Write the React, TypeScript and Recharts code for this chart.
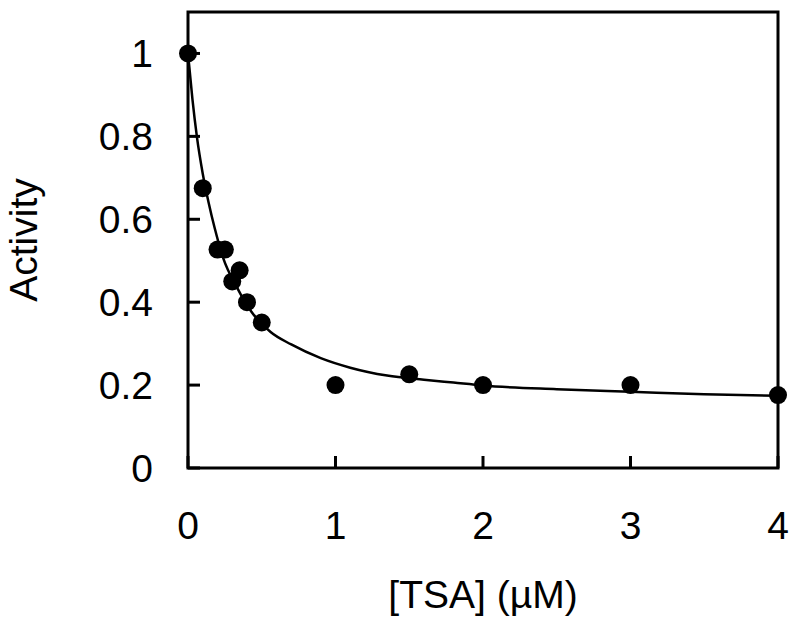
import React from "react";
import { ComposedChart, Line, Scatter, XAxis, YAxis, Label, ReferenceArea } from "recharts";

const pointX = [0, 0.1, 0.2, 0.25, 0.3, 0.35, 0.4, 0.5, 1, 1.5, 2, 3, 4];
const pointY = [1.0, 0.675, 0.527, 0.527, 0.45, 0.477, 0.4, 0.351, 0.2, 0.226, 0.2, 0.2, 0.176];

const curveX = [0, 0.03, 0.06, 0.1, 0.14, 0.18, 0.24, 0.33, 0.43, 0.56, 0.7, 0.9, 1.1, 1.35, 1.6, 1.8, 2.0, 2.5, 3.0, 3.5, 4.0];
const curveY = [1.0, 0.89, 0.8, 0.71, 0.64, 0.58, 0.505, 0.437, 0.377, 0.328, 0.298, 0.265, 0.242, 0.223, 0.213, 0.206, 0.199, 0.19, 0.184, 0.178, 0.174];

const xTicks = [0, 1, 2, 3, 4];
const yTicks = [0, 0.2, 0.4, 0.6, 0.8, 1];
const xDomain = [0, 4];
const yDomain = [0, 1.1];

const points = pointX.map((x, i) => ({ x, y: pointY[i] }));
const curve = curveX.map((x, i) => ({ x, y: curveY[i] }));

const FONT = "'Liberation Sans', Arial, sans-serif";
const FS = 39;
const TICK_LEN = 12;
const X_MARGIN = 43;
const Y_MARGIN = 35;

const XTick = (p: any) => {
  const { x, y, payload } = p;
  const axisY = y - X_MARGIN;
  return (
    <g>
      <line x1={x} x2={x} y1={axisY} y2={axisY - TICK_LEN} stroke="#000" strokeWidth={3} />
      <text x={x} y={y} dy="0.71em" textAnchor="middle" fontSize={FS} fontFamily={FONT} fill="#000">
        {payload.value}
      </text>
    </g>
  );
};

const YTick = (p: any) => {
  const { x, y, payload } = p;
  const axisX = x + Y_MARGIN;
  return (
    <g>
      <line x1={axisX} x2={axisX + TICK_LEN} y1={y} y2={y} stroke="#000" strokeWidth={3} />
      <text x={x} y={y} dy="0.355em" textAnchor="end" fontSize={FS} fontFamily={FONT} fill="#000">
        {payload.value}
      </text>
    </g>
  );
};

export default function App() {
  return (
    <div style={{ position: "absolute", left: 0, top: 0, background: "#fff" }}>
      <ComposedChart
        width={800}
        height={627}
        margin={{ top: 12, right: 22, bottom: 59, left: 0 }}
        style={{ fontFamily: FONT }}
      >
        <XAxis
          dataKey="x"
          type="number"
          domain={xDomain}
          ticks={xTicks}
          height={100}
          axisLine={false}
          tickLine={false}
          tickSize={0}
          tickMargin={X_MARGIN}
          tick={<XTick />}
        >
          <Label
            value="[TSA] (µM)"
            position="bottom"
            offset={12}
            style={{ fontSize: FS, fill: "#000", fontFamily: FONT }}
          />
        </XAxis>
        <YAxis
          dataKey="y"
          type="number"
          domain={yDomain}
          ticks={yTicks}
          width={188}
          axisLine={false}
          tickLine={false}
          tickSize={0}
          tickMargin={Y_MARGIN}
          tick={<YTick />}
        >
          <Label
            value="Activity"
            angle={-90}
            position="insideLeft"
            offset={23}
            style={{ fontSize: FS, fill: "#000", fontFamily: FONT, textAnchor: "middle" }}
          />
        </YAxis>
        <ReferenceArea
          x1={xDomain[0]}
          x2={xDomain[1]}
          y1={yDomain[0]}
          y2={yDomain[1]}
          fill="none"
          fillOpacity={0}
          stroke="#000"
          strokeWidth={3}
          ifOverflow="visible"
        />
        <Line
          data={curve}
          dataKey="y"
          type="monotone"
          stroke="#000"
          strokeWidth={2.5}
          dot={false}
          activeDot={false}
          isAnimationActive={false}
        />
        <Scatter
          data={points}
          dataKey="y"
          fill="#000"
          isAnimationActive={false}
          shape={(p: any) => <circle cx={p.cx} cy={p.cy} r={9} fill="#000" />}
        />
      </ComposedChart>
    </div>
  );
}
